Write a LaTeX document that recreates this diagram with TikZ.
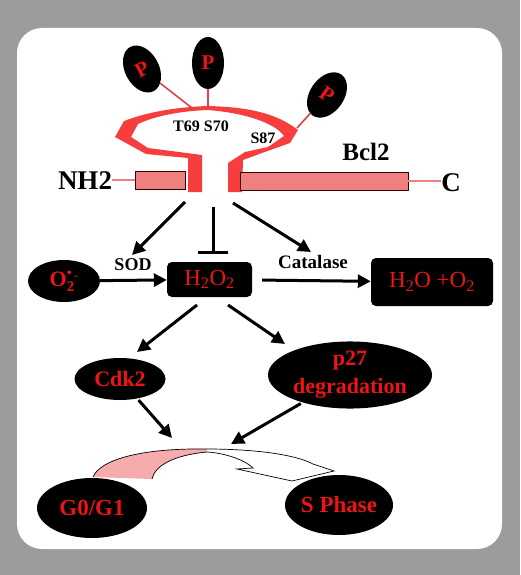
\documentclass[tikz,border=0pt]{standalone}
\usepackage{fontspec}
\setmainfont{Liberation Serif}
\usetikzlibrary{shapes.geometric,arrows.meta}
\definecolor{bggray}{RGB}{156,156,156}
\definecolor{bandred}{RGB}{246,62,62}
\definecolor{rectpink}{RGB}{240,128,128}
\definecolor{arrowpink}{RGB}{246,172,172}
\definecolor{txtred}{RGB}{238,20,20}
\definecolor{stemred}{RGB}{214,70,70}
\begin{document}
\begin{tikzpicture}[x=1pt,y=-1pt,
  blackell/.style={ellipse, fill=black, inner sep=0pt, text=txtred, font=\fontsize{22}{28}\selectfont\bfseries, align=center},
  pnode/.style={ellipse, fill=black, inner sep=0pt, text=txtred, font=\fontsize{21}{21}\selectfont\bfseries, minimum width=34pt, minimum height=50pt},
  blackbox/.style={rectangle, rounded corners=5pt, fill=black, inner sep=0pt, text=txtred, font=\fontsize{23}{23}\selectfont},
  blk/.style={text=black, inner sep=0pt},
  pinkrect/.style={rectangle, fill=rectpink, draw=black!80!red, line width=0.8pt, inner sep=0pt, minimum height=18pt},
  stem/.style={draw=stemred, line width=1.6pt},
  pinkline/.style={draw=rectpink, line width=1.6pt},
  arr/.style={line width=3pt, -{Triangle[length=13pt,width=13pt]}},
  inhib/.style={line width=3pt, -{Bar[width=30pt]}}
]
\useasboundingbox (0,0) rectangle (520,575);
\fill[bggray] (0,0) rectangle (520,575);
\fill[white, rounded corners=25pt] (17,28) rectangle (502,549);

% Bcl2 loop band
\fill[bandred] (188,192) -- (188,158) -- (146,154) -- (115,137) -- (124,121)
  .. controls (150,111) and (180,107) .. (208,106)
  .. controls (245,107) and (275,112) .. (298,130)
  -- (290,143) -- (262,153) -- (243,160) -- (242,192)
  -- (228,192) -- (228,163) -- (245,152) -- (268,147) -- (284,136)
  .. controls (275,123) and (245,113) .. (208,110)
  .. controls (180,111) and (155,116) .. (138,124)
  -- (131,137) -- (148,148) -- (202,155) -- (202,192) -- cycle;

% stems and P
\coordinate (s1) at (192,108);
\coordinate (s2) at (208,108);
\coordinate (s3) at (297,128);
\node[pnode, rotate=28] (p1) at (142,69) {P};
\node[pnode, minimum width=32pt, minimum height=52pt] (p2) at (208,63) {P};
\node[pnode, rotate=-35] (p3) at (327,95) {P};
\draw[stem] (p1) -- (s1);
\draw[stem] (p2) -- (s2);
\draw[stem] (p3) -- (s3);

\node[blk, font=\fontsize{16}{16}\selectfont\bfseries] (t69) at (201,126) {T69 S70};
\node[blk, font=\fontsize{16}{16}\selectfont\bfseries] (s87) at (263,138) {S87};
\node[blk, font=\fontsize{25}{25}\selectfont\bfseries] (bcl2) at (366,152) {Bcl2};

% domains
\node[pinkrect, minimum width=50pt] (nrect) at (160,180) {};
\node[pinkrect, minimum width=168pt] (crect) at (324,181) {};
\node[blk, font=\fontsize{27}{27}\selectfont\bfseries] (nh2) at (85,181) {NH2};
\node[blk, font=\fontsize{27}{27}\selectfont\bfseries] (cterm) at (451,183) {C};
\draw[pinkline] (nh2.east |- nrect.west) -- (nrect.west);
\draw[pinkline] (crect.east) -- (crect.east -| cterm.west);

% ROS nodes
\node[blackell, minimum width=72pt, minimum height=42pt] (o2) at (64,281)
  {O\makebox[0pt][l]{\raisebox{0.95ex}{\fontsize{14}{14}\selectfont •}}\raisebox{-0.45ex}{\fontsize{15}{15}\selectfont 2}\raisebox{0.7ex}{\fontsize{12}{12}\selectfont -}};
\node[blackbox, minimum width=85pt, minimum height=35pt] (h2o2) at (209.5,279.5)
  {H\textsubscript{2}O\textsubscript{2}};
\node[blackbox, minimum width=122pt, minimum height=48pt] (prod) at (432,282)
  {H\textsubscript{2}O +O\textsubscript{2}};
\node[blk, font=\fontsize{18}{18}\selectfont\bfseries] (sod) at (133,265) {SOD};
\node[blk, font=\fontsize{19}{19}\selectfont\bfseries] (cat) at (313,262) {Catalase};

\draw[arr] (o2) -- (h2o2);
\draw[arr, shorten <=10pt] (h2o2) -- (prod);

% top arrows
\coordinate (a1s) at (185,202);
\coordinate (a1e) at (132,255);
\coordinate (tS) at (213,207);
\coordinate (tE) at (213,254);
\coordinate (a3s) at (233,203);
\coordinate (a3e) at (311,252);
\draw[arr] (a1s) -- (a1e);
\draw[inhib] (tS) -- (tE);
\draw[arr] (a3s) -- (a3e);

% lower nodes
\node[blackell, minimum width=91pt, minimum height=42pt] (cdk) at (120,379) {Cdk2};
\node[blackell, minimum width=164pt, minimum height=64pt] (p27) at (350,375) {p27\\degradation};
\node[blackell, minimum width=110pt, minimum height=60pt, font=\fontsize{23}{23}\selectfont\bfseries] (g0) at (92,508) {G0/G1};
\node[blackell, minimum width=108pt, minimum height=60pt, font=\fontsize{23}{23}\selectfont\bfseries] (sph) at (339,505) {S Phase};

\coordinate (b1s) at (197,305);
\coordinate (b1e) at (137,352);
\coordinate (b2s) at (228,305);
\coordinate (b2e) at (285,344);
\draw[arr] (b1s) -- (b1e);
\draw[arr] (b2s) -- (b2e);

\coordinate (c1e) at (172,438);
\coordinate (c2e) at (231,444);
\draw[arr, shorten <=2pt] (cdk) -- (c1e);
\draw[arr, shorten <=2pt] (p27) -- (c2e);

% curved transition arrow
\fill[arrowpink] (93,477) .. controls (100,460) and (140,448) .. (207,449)
  -- (207,452) .. controls (175,455) and (155,465) .. (152,479) -- cycle;
\draw[line width=0.7pt] (93,477) .. controls (100,460) and (140,448) .. (207,449);
\draw[line width=0.7pt] (207,452) .. controls (175,455) and (155,465) .. (152,479);
\fill[white] (207,449) .. controls (240,449) and (290,452) .. (313,464)
  -- (334,471) -- (292,481) -- (237,469) -- (253,468)
  .. controls (245,460) and (225,453) .. (207,452) -- cycle;
\draw[line width=0.7pt] (207,449) .. controls (240,449) and (290,452) .. (313,464)
  -- (334,471) -- (292,481) -- (237,469) -- (253,468)
  .. controls (245,460) and (225,453) .. (207,452);
\end{tikzpicture}
\end{document}
